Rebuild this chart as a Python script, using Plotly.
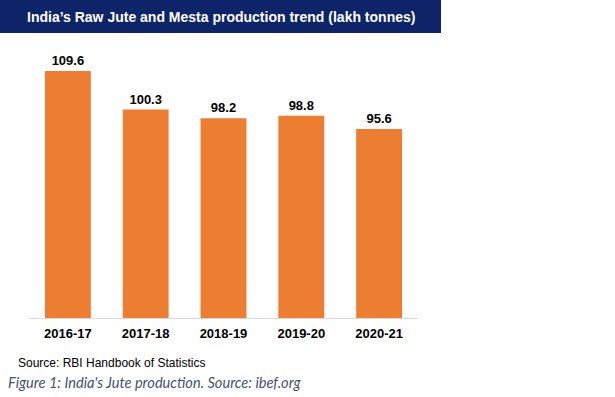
import plotly.graph_objects as go

years = ["2016-17", "2017-18", "2018-19", "2019-20", "2020-21"]
production = [109.6, 100.3, 98.2, 98.8, 95.6]
title_text = "India’s Raw Jute and Mesta production trend (lakh tonnes)"
source_text = "Source: RBI Handbook of Statistics"
caption_text = "Figure 1: India's Jute production. Source: ibef.org"

W, H = 615, 397
L, R, T, B = 29, 197, 28, 79
pw = W - L - R
ph = H - T - B

def px_x(p):
    return (p - L) / pw

def px_y(p):
    return 1 - (p - T) / ph

fig = go.Figure()
fig.add_trace(go.Bar(
    x=years, y=production,
    marker=dict(color="#ED7D31", line=dict(width=0)),
    text=[f"{v:.1f}" for v in production],
    textposition="outside",
    textfont=dict(family="Arial", size=13, color="#000000"),
    texttemplate="<b>%{text}</b>",
    cliponaxis=False,
    hoverinfo="skip",
))

fig.update_layout(
    width=W, height=H,
    margin=dict(l=L, r=R, t=T, b=B, pad=0),
    paper_bgcolor="white", plot_bgcolor="white",
    showlegend=False,
    bargap=0.41,
    xaxis=dict(
        range=[-0.5, 4.5], showgrid=False, zeroline=False,
        showline=True, linecolor="#D9D9D9", linewidth=1,
        ticks="outside", ticklen=3, tickcolor="rgba(0,0,0,0)",
        tickfont=dict(family="Arial", size=13, color="#000000"),
        tickvals=list(range(len(years))), ticktext=[f"<b>{y}</b>" for y in years],
    ),
    yaxis=dict(range=[50, 120], visible=False, showgrid=False, zeroline=False),
    shapes=[dict(
        type="rect", xref="paper", yref="paper",
        x0=px_x(0), x1=px_x(441), y0=px_y(33), y1=px_y(0),
        fillcolor="#0E2469", line=dict(width=0), layer="above",
    )],
    annotations=[
        dict(text=f"<b>{title_text}</b>", xref="paper", yref="paper",
             x=px_x(221), y=px_y(16.5), xanchor="center", yanchor="middle",
             showarrow=False, font=dict(family="Arial", size=14, color="white")),
        dict(text=source_text, xref="paper", yref="paper",
             x=px_x(16), y=px_y(363), xanchor="left", yanchor="middle",
             showarrow=False, font=dict(family="Arial", size=12, color="#000000")),
        dict(text=f"<i>{caption_text}</i>", xref="paper", yref="paper",
             x=px_x(6), y=px_y(382), xanchor="left", yanchor="middle",
             showarrow=False, font=dict(family="Lato", size=14.6, color="#44546A")),
    ],
)

fig.write_html(
    "out.html",
    config={"displayModeBar": False, "staticPlot": True},
    post_script="document.body.style.margin='0';document.body.style.overflow='hidden';",
)
